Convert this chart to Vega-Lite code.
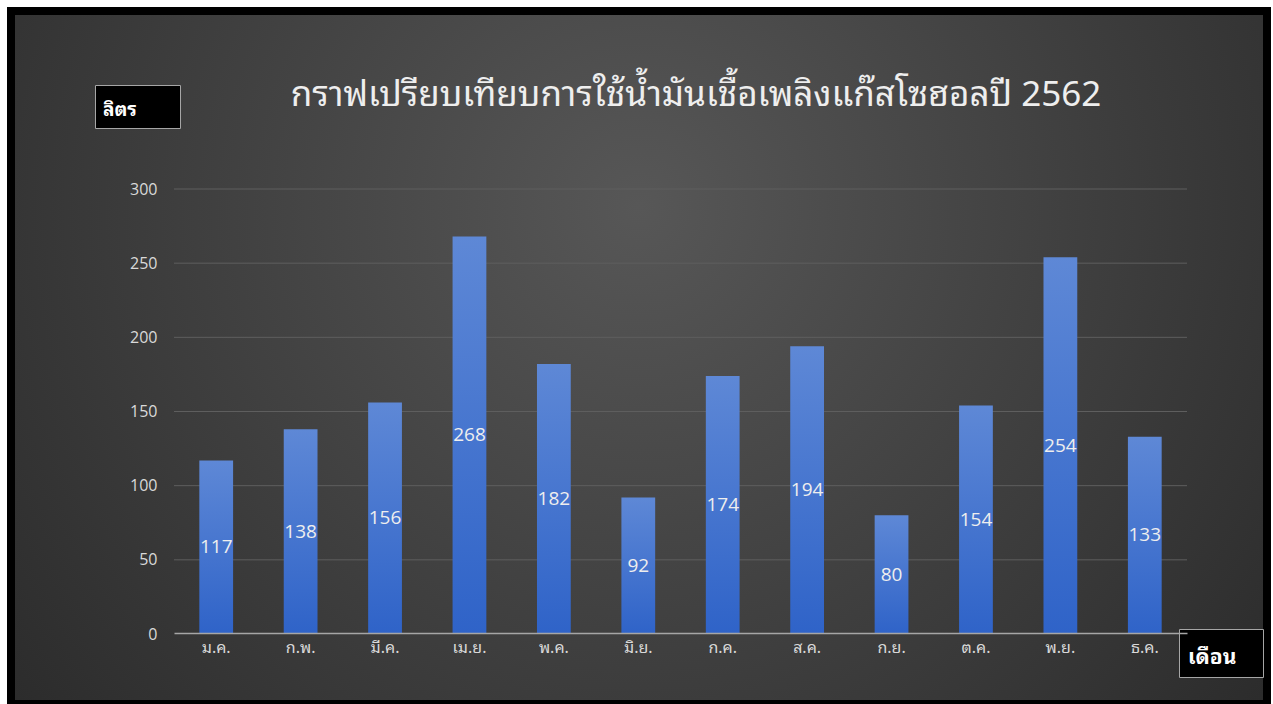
{
  "$schema": "https://vega.github.io/schema/vega-lite/v6.json",
  "width": 1256,
  "height": 693,
  "autosize": {"type": "none"},
  "padding": {"left": 11, "top": 11, "right": 6, "bottom": 0},
  "background": "#ffffff",
  "title": {
    "text": "กราฟเปรียบเทียบการใช้น้ำมันเชื้อเพลิงแก๊สโซฮอลปี 2562",
    "font": "Noto Sans Thai Looped, Leelawadee UI, Tahoma, Noto Sans Thai, sans-serif",
    "fontSize": 35,
    "fontWeight": "normal",
    "color": "#eeeeee",
    "anchor": "middle",
    "offset": -106,
    "dx": 57
  },
  "config": {
    "view": {"stroke": null},
    "axis": {
      "labelFont": "Noto Sans Thai Looped, Leelawadee UI, Tahoma, Noto Sans Thai, sans-serif",
      "labelColor": "#d9d9d9"
    }
  },
  "datasets": {
    "fuel": [
      {"month": "ม.ค.", "liters": 117},
      {"month": "ก.พ.", "liters": 138},
      {"month": "มี.ค.", "liters": 156},
      {"month": "เม.ย.", "liters": 268},
      {"month": "พ.ค.", "liters": 182},
      {"month": "มิ.ย.", "liters": 92},
      {"month": "ก.ค.", "liters": 174},
      {"month": "ส.ค.", "liters": 194},
      {"month": "ก.ย.", "liters": 80},
      {"month": "ต.ค.", "liters": 154},
      {"month": "พ.ย.", "liters": 254},
      {"month": "ธ.ค.", "liters": 133}
    ],
    "gridlines": [
      {"level": 50}, {"level": 100}, {"level": 150},
      {"level": 200}, {"level": 250}, {"level": 300}
    ]
  },
  "data": {"name": "fuel"},
  "resolve": {"scale": {"y": "independent"}},
  "layer": [
    {
      "data": {"values": [{"panel": "background"}]},
      "mark": {
        "type": "rect",
        "stroke": "#000000",
        "strokeWidth": 8,
        "color": {
          "gradient": "radial",
          "x1": 0.5, "y1": 0.38, "r1": 0,
          "x2": 0.5, "y2": 0.38, "r2": 0.75,
          "stops": [
            {"offset": 0, "color": "#575757"},
            {"offset": 1, "color": "#242424"}
          ]
        }
      },
      "encoding": {}
    },
    {
      "data": {"name": "gridlines"},
      "mark": {"type": "rule", "color": "#5e5e5e", "strokeWidth": 1},
      "encoding": {
        "x": {"datum": "ม.ค.", "bandPosition": -0.75},
        "x2": {"datum": "ธ.ค.", "bandPosition": 1.75},
        "y": {
          "field": "level",
          "type": "quantitative",
          "scale": {"domain": [0, 300], "range": [623, 178], "nice": false},
          "axis": null
        }
      }
    },
    {
      "mark": {
        "type": "bar",
        "color": {
          "gradient": "linear",
          "x1": 0, "y1": 0, "x2": 0, "y2": 1,
          "stops": [
            {"offset": 0, "color": "#5e88d6"},
            {"offset": 1, "color": "#2f63c8"}
          ]
        }
      },
      "encoding": {
        "x": {
          "field": "month",
          "type": "nominal",
          "sort": null,
          "scale": {
            "domain": ["ม.ค.", "ก.พ.", "มี.ค.", "เม.ย.", "พ.ค.", "มิ.ย.", "ก.ค.", "ส.ค.", "ก.ย.", "ต.ค.", "พ.ย.", "ธ.ค."],
            "range": [163, 1176],
            "paddingInner": 0.6,
            "paddingOuter": 0.3
          },
          "axis": {
            "title": null,
            "orient": "bottom",
            "offset": -71,
            "zindex": 1,
            "bandPosition": 0.5,
            "labelAlign": "center",
            "labelAngle": 0,
            "labelFontSize": 16,
            "labelPadding": 14,
            "ticks": false,
            "tickSize": 0,
            "domainColor": "#a6a6a6",
            "domainWidth": 1.5,
            "grid": false
          }
        },
        "y": {
          "field": "liters",
          "type": "quantitative",
          "scale": {"domain": [0, 300], "range": [623, 178], "nice": false},
          "axis": {
            "title": null,
            "orient": "left",
            "offset": -163,
            "zindex": 1,
            "values": [0, 50, 100, 150, 200, 250, 300],
            "labelFontSize": 16,
            "labelPadding": 17,
            "labelFont": "Open Sans",
            "ticks": false,
            "tickSize": 0,
            "domain": false,
            "grid": false
          }
        }
      }
    },
    {
      "mark": {
        "type": "text",
        "color": "#eeeeee",
        "fontSize": 19,
        "font": "Open Sans",
        "baseline": "middle",
        "align": "center"
      },
      "encoding": {
        "x": {"field": "month", "type": "nominal", "sort": null},
        "y": {
          "field": "liters",
          "type": "quantitative",
          "scale": {"domain": [0, 600], "range": [623, 178], "nice": false},
          "axis": null
        },
        "text": {"field": "liters", "type": "quantitative"}
      }
    },
    {
      "data": {"values": [{"unit": "ลิตร"}]},
      "mark": {"type": "point", "opacity": 0},
      "encoding": {
        "color": {
          "field": "unit",
          "type": "nominal",
          "legend": {
            "orient": "none",
            "legendX": 84,
            "legendY": 74,
            "title": "ลิตร",
            "titleOrient": "left",
            "titleAnchor": "middle",
            "titleBaseline": "top",
            "titlePadding": 19,
            "titleColor": "#ffffff",
            "titleFontSize": 19,
            "titleFontWeight": "bold",
            "titleFont": "Noto Sans Thai Looped, Leelawadee UI, Tahoma, Noto Sans Thai, sans-serif",
            "fillColor": "#000000",
            "strokeColor": "#a6a6a6",
            "padding": 8,
            "symbolSize": 256,
            "symbolOpacity": 0,
            "symbolStrokeWidth": 0,
            "labelOffset": 0,
            "labelExpr": "''"
          }
        }
      }
    },
    {
      "data": {"values": [{"axisname": "เดือน"}]},
      "mark": {"type": "point", "opacity": 0},
      "encoding": {
        "shape": {
          "field": "axisname",
          "type": "nominal",
          "legend": {
            "orient": "none",
            "legendX": 1168,
            "legendY": 618,
            "title": "เดือน",
            "titleOrient": "left",
            "titleAnchor": "middle",
            "titleBaseline": "top",
            "titlePadding": -1,
            "titleColor": "#ffffff",
            "titleFontSize": 21,
            "titleFontWeight": "bold",
            "titleFont": "Noto Sans Thai Looped, Leelawadee UI, Tahoma, Noto Sans Thai, sans-serif",
            "fillColor": "#000000",
            "strokeColor": "#a6a6a6",
            "padding": 9,
            "symbolSize": 324,
            "symbolOpacity": 0,
            "symbolStrokeWidth": 0,
            "labelOffset": 0,
            "labelExpr": "''"
          }
        }
      }
    }
  ]
}
